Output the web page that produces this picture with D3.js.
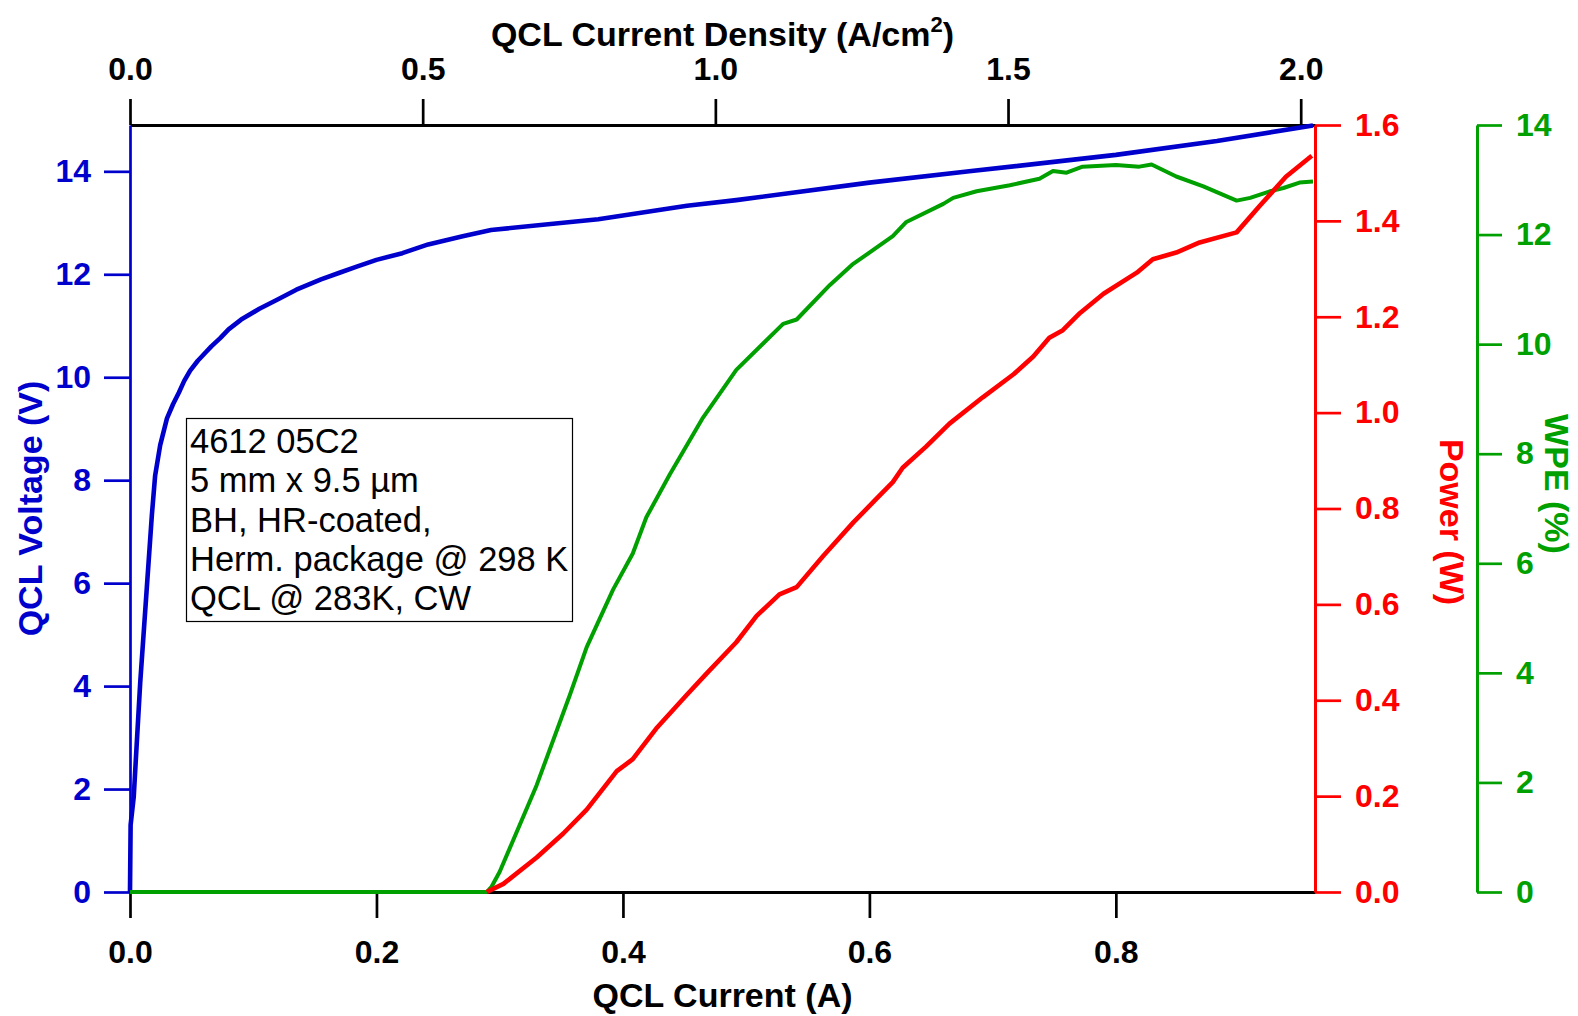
<!DOCTYPE html>
<html>
<head>
<meta charset="utf-8">
<script src="https://cdn.jsdelivr.net/npm/d3@7"></script>
<style>
  body { margin: 0; background: #fff; }
  svg { display: block; font-family: "Liberation Sans", Arial, sans-serif; }
</style>
</head>
<body>
<svg id="chart" width="1578" height="1016"></svg>
<script>
// QCL voltage vs current
var voltCurrent = [0, 0.0005, 0.003, 0.0083, 0.0137, 0.0178, 0.0204, 0.0245, 0.030, 0.035, 0.0396, 0.044, 0.0488, 0.055, 0.0613, 0.066, 0.0732, 0.08, 0.0902, 0.105, 0.119, 0.135, 0.155, 0.17, 0.184, 0.20, 0.221, 0.242, 0.27, 0.293, 0.38, 0.452, 0.492, 0.60, 0.681, 0.80, 0.882, 0.96];
var voltage     = [0, 1.3, 1.84, 4.07, 5.93, 7.34, 8.09, 8.68, 9.2, 9.48, 9.7, 9.93, 10.13, 10.32, 10.48, 10.6, 10.76, 10.93, 11.12, 11.33, 11.5, 11.7, 11.9, 12.03, 12.15, 12.28, 12.41, 12.58, 12.74, 12.86, 13.07, 13.33, 13.44, 13.78, 14.0, 14.32, 14.59, 14.89];

// optical power vs current
var powerCurrent = [0.2895, 0.303, 0.330, 0.3516, 0.3706, 0.395, 0.408, 0.427, 0.4517, 0.468, 0.492, 0.5085, 0.527, 0.541, 0.5625, 0.587, 0.606, 0.619, 0.627, 0.646, 0.665, 0.692, 0.717, 0.733, 0.746, 0.757, 0.771, 0.790, 0.817, 0.830, 0.849, 0.868, 0.898, 0.917, 0.938, 0.959];
var power        = [0, 0.017, 0.072, 0.122, 0.172, 0.252, 0.277, 0.341, 0.411, 0.456, 0.521, 0.576, 0.621, 0.636, 0.701, 0.771, 0.821, 0.855, 0.885, 0.929, 0.977, 1.032, 1.080, 1.117, 1.156, 1.172, 1.208, 1.248, 1.292, 1.320, 1.334, 1.355, 1.376, 1.432, 1.492, 1.536];

// wall plug efficiency vs current
var wpeCurrent = [0, 0.2895, 0.2935, 0.300, 0.330, 0.357, 0.3706, 0.392, 0.408, 0.419, 0.438, 0.465, 0.492, 0.530, 0.541, 0.568, 0.586, 0.619, 0.630, 0.660, 0.668, 0.687, 0.714, 0.738, 0.749, 0.760, 0.773, 0.800, 0.819, 0.829, 0.849, 0.871, 0.898, 0.909, 0.925, 0.936, 0.949, 0.960];
var wpe        = [0, 0, 0.1, 0.37, 1.95, 3.60, 4.47, 5.52, 6.18, 6.84, 7.62, 8.66, 9.53, 10.37, 10.45, 11.08, 11.45, 11.97, 12.23, 12.56, 12.67, 12.79, 12.90, 13.02, 13.16, 13.13, 13.24, 13.27, 13.24, 13.28, 13.06, 12.88, 12.62, 12.67, 12.79, 12.85, 12.95, 12.97];

var currentTicks = [0, 0.2, 0.4, 0.6, 0.8];
var densityTicks = [0, 0.5, 1.0, 1.5, 2.0];
var voltTicks = [0, 2, 4, 6, 8, 10, 12, 14];
var powerTicks = [0, 0.2, 0.4, 0.6, 0.8, 1.0, 1.2, 1.4, 1.6];
var wpeTicks = [0, 2, 4, 6, 8, 10, 12, 14];

var notes = ["4612 05C2", "5 mm x 9.5 \u00b5m", "BH, HR-coated,", "Herm. package @ 298 K", "QCL @ 283K, CW"];

var xMax = 0.9616, area = 0.475;
var blue = "#0000cc", red = "#ff0000", green = "#00a000";

var svg = d3.select("#chart");
var pLeft = 130, pRight = 1315, pTop = 125, pBottom = 892;

var x = d3.scaleLinear().domain([0, xMax]).range([pLeft, pRight]);
var xTop = d3.scaleLinear().domain([0, xMax / area]).range([pLeft, pRight]);
var yV = d3.scaleLinear().domain([0, 14.9]).range([pBottom, pTop]);
var yP = d3.scaleLinear().domain([0, 1.6]).range([pBottom, pTop]);
var yW = d3.scaleLinear().domain([0, 14]).range([pBottom, pTop]);

function styleAxis(g, color, width) {
  g.select(".domain").attr("stroke", color).attr("stroke-width", width);
  g.selectAll(".tick line").attr("stroke", color).attr("stroke-width", 2.7);
  g.selectAll(".tick text").attr("fill", color)
    .style("font-size", "32px").style("font-weight", "bold")
    .style("font-family", "'Liberation Sans', Arial, sans-serif");
}

// bottom
svg.append("g").attr("transform", "translate(0," + pBottom + ")")
  .call(d3.axisBottom(x).tickValues(currentTicks).tickFormat(d3.format(".1f"))
    .tickSize(26).tickSizeOuter(0).tickPadding(22))
  .call(styleAxis, "#000", 3);

// top
svg.append("g").attr("transform", "translate(0," + pTop + ")")
  .call(d3.axisTop(xTop).tickValues(densityTicks).tickFormat(d3.format(".1f"))
    .tickSize(26).tickSizeOuter(0).tickPadding(19))
  .call(styleAxis, "#000", 3);

// left voltage
svg.append("g").attr("transform", "translate(" + pLeft + ",0)")
  .call(d3.axisLeft(yV).tickValues(voltTicks).tickFormat(d3.format("d"))
    .tickSize(26).tickSizeOuter(0).tickPadding(13))
  .call(styleAxis, blue, 2.7);

// right power
svg.append("g").attr("transform", "translate(" + pRight + ",0)")
  .call(d3.axisRight(yP).tickValues(powerTicks).tickFormat(d3.format(".1f"))
    .tickSize(26).tickSizeOuter(0).tickPadding(14))
  .call(styleAxis, red, 3);

// far right wpe
svg.append("g").attr("transform", "translate(1477,0)")
  .call(d3.axisRight(yW).tickValues(wpeTicks).tickFormat(d3.format("d"))
    .tickSize(25).tickSizeOuter(0).tickPadding(14))
  .call(styleAxis, green, 3);

// titles
var titleFont = function(t, color) {
  t.attr("fill", color).attr("text-anchor", "middle")
    .style("font-size", "34px").style("font-weight", "bold");
};

var topTitle = svg.append("text").attr("x", (pLeft + pRight) / 2).attr("y", 46).call(titleFont, "#000");
topTitle.append("tspan").text("QCL Current Density (A/cm");
topTitle.append("tspan").attr("dy", -14).style("font-size", "22px").text("2");
topTitle.append("tspan").attr("dy", 14).text(")");

svg.append("text").attr("x", (pLeft + pRight) / 2).attr("y", 1007).call(titleFont, "#000")
  .text("QCL Current (A)");

svg.append("text").attr("transform", "translate(42," + (pTop + pBottom) / 2 + ") rotate(-90)")
  .call(titleFont, blue).text("QCL Voltage (V)");

svg.append("text").attr("transform", "translate(1440,522) rotate(90)")
  .call(titleFont, red).text("Power (W)");

svg.append("text").attr("transform", "translate(1545,484) rotate(90)")
  .call(titleFont, green).text("WPE (%)");

// curves
function drawCurve(xs, ys, yScale, color, width) {
  var pts = xs.map(function(d, i) { return [d, ys[i]]; });
  svg.append("path").datum(pts)
    .attr("fill", "none").attr("stroke", color).attr("stroke-width", width)
    .attr("stroke-linejoin", "round").attr("stroke-linecap", "butt")
    .attr("d", d3.line().x(function(d) { return x(d[0]); }).y(function(d) { return yScale(d[1]); }));
}

drawCurve(voltCurrent, voltage, yV, blue, 4.6);
drawCurve(wpeCurrent, wpe, yW, green, 4);
drawCurve(powerCurrent, power, yP, red, 4.6);

// annotation box
var box = svg.append("g");
box.append("rect").attr("x", 186.5).attr("y", 418.5).attr("width", 386).attr("height", 203)
  .attr("fill", "#fff").attr("stroke", "#000").attr("stroke-width", 1.2);
box.selectAll("text").data(notes).enter().append("text")
  .attr("x", 190).attr("y", function(d, i) { return 453 + i * 39.3; })
  .style("font-size", "34.5px").attr("fill", "#000")
  .text(function(d) { return d; });
</script>
</body>
</html>
